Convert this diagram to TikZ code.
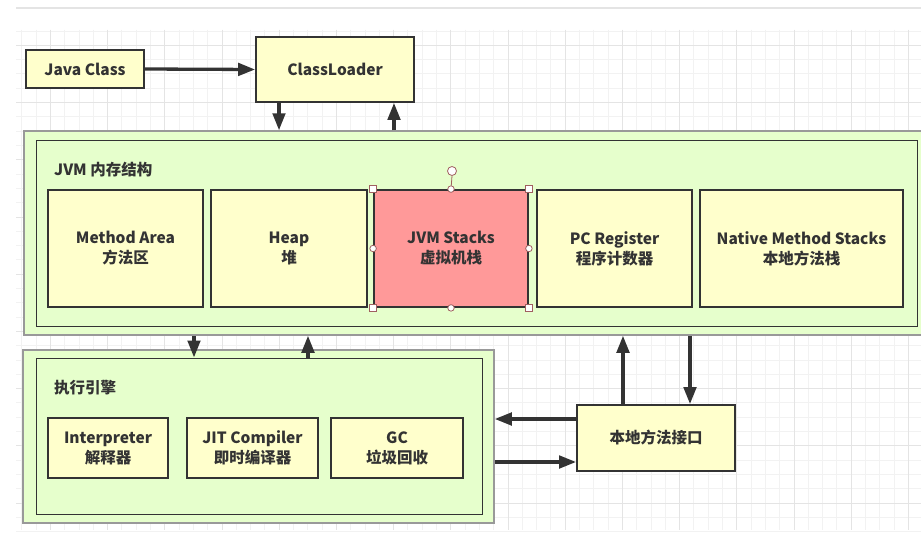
\documentclass[tikz,border=0pt]{standalone}
\usepackage{fontspec}
\setmainfont{Noto Sans CJK SC}
\usetikzlibrary{arrows.meta}
\definecolor{ybox}{HTML}{FFFFCC}
\definecolor{gbox}{HTML}{E6FFCC}
\definecolor{rbox}{HTML}{FF9999}
\definecolor{ink}{HTML}{333333}
\definecolor{handle}{HTML}{A06060}
\definecolor{gridminor}{HTML}{F2F2F2}
\definecolor{gridmajor}{HTML}{E4E4E4}
\tikzset{
  box/.style={draw=ink, line width=1.8pt, fill=ybox, text=ink, align=center,
    font=\fontsize{15.5}{20}\selectfont\bfseries, inner sep=0pt},
  redbox/.style={box, fill=rbox},
  outerframe/.style={draw=black!40, line width=1.5pt, fill=gbox},
  innerframe/.style={draw=ink, line width=1pt},
  arr/.style={draw=ink, line width=3.3pt, -{Triangle[length=17pt,width=12.5pt]}},
  title/.style={text=ink, anchor=west, font=\fontsize{15.5}{20}\selectfont\bfseries, inner sep=0pt},
  sqhandle/.style={draw=handle, fill=white, line width=0.8pt, minimum size=6.5pt, inner sep=0pt},
  cirhandle/.style={circle, draw=handle, fill=white, line width=0.8pt, minimum size=6.5pt, inner sep=0pt},
}
\begin{document}
\begin{tikzpicture}[x=1pt,y=-1pt]
\useasboundingbox (0,0) rectangle (921,543);
% background grid
\fill[white] (0,0) rectangle (921,543);
\foreach \i in {-2,...,61} {
  \pgfmathsetmacro\gx{50.3+\i*14.3}
  \ifdim\gx pt>16pt \draw[gridminor, line width=0.8pt] (\gx,30) -- (\gx,529.5); \fi
}
\foreach \i in {-1,...,34} {
  \pgfmathsetmacro\gy{45.3+\i*14.3}
  \draw[gridminor, line width=0.8pt] (16,\gy) -- (921,\gy);
}
\foreach \i in {0,...,15} {
  \pgfmathsetmacro\gx{50.3+\i*57.2}
  \draw[gridmajor, line width=0.8pt] (\gx,30) -- (\gx,529.5);
}
\foreach \i in {0,...,8} {
  \pgfmathsetmacro\gy{45.3+\i*57.2}
  \draw[gridmajor, line width=0.8pt] (16,\gy) -- (921,\gy);
}
\draw[gridmajor, line width=1.8pt] (16,8.3) -- (921,8.3);

% top
\node[box, minimum width=118pt, minimum height=38pt] (javaclass) at (85,69) {Java Class};
\node[box, minimum width=158pt, minimum height=65pt] (classloader) at (335,69.5) {ClassLoader};

% JVM memory frame
\node[outerframe, minimum width=906pt, minimum height=204pt, inner sep=0pt] (jvmouter) at (477,233) {};
\node[innerframe, minimum width=881pt, minimum height=186pt, inner sep=0pt] (jvminner) at (476.5,233) {};
\node[title] (jvmtitle) at (54,170) {JVM 内存结构};
\node[box, minimum width=155pt, minimum height=117pt] (method) at (125.5,248.5) {Method Area\\方法区};
\node[box, minimum width=156pt, minimum height=117pt] (heap) at (289,248.5) {Heap\\堆};
\node[redbox, minimum width=154pt, minimum height=117pt] (stacks) at (451,248.5) {JVM Stacks\\虚拟机栈};
\node[box, minimum width=155pt, minimum height=117pt] (pc) at (614.5,248.5) {PC Register\\程序计数器};
\node[box, minimum width=203pt, minimum height=117pt] (native) at (801.5,248.5) {Native Method Stacks\\本地方法栈};

% selection handles on JVM Stacks
\node[cirhandle, minimum size=9pt] (rot) at (452,171) {};
\draw[handle, line width=0.8pt] (rot.south) -- (stacks.north);
\node[sqhandle] (h1) at (stacks.north west) {};
\node[sqhandle] (h2) at (stacks.north east) {};
\node[sqhandle] (h3) at (stacks.south west) {};
\node[sqhandle] (h4) at (stacks.south east) {};
\node[cirhandle] (h5) at (stacks.north) {};
\node[cirhandle] (h6) at (stacks.south) {};
\node[cirhandle] (h7) at (stacks.west) {};
\node[cirhandle] (h8) at (stacks.east) {};

% execution engine frame
\node[outerframe, minimum width=471pt, minimum height=173pt, inner sep=0pt] (exouter) at (258.5,436.5) {};
\node[innerframe, minimum width=446pt, minimum height=156pt, inner sep=0pt] (exinner) at (259,436) {};
\node[title] (extitle) at (54,388) {执行引擎};
\node[box, minimum width=120pt, minimum height=60pt] (interp) at (108,448) {Interpreter\\解释器};
\node[box, minimum width=131pt, minimum height=60pt] (jit) at (252.5,448) {JIT Compiler\\即时编译器};
\node[box, minimum width=132pt, minimum height=60pt] (gc) at (397,448) {GC\\垃圾回收};

% native interface
\node[box, minimum width=158pt, minimum height=66pt] (jni) at (656,438) {本地方法接口};

% helper coordinates for vertical arrows
\coordinate (c279) at (279,0);
\coordinate (c394) at (394,0);
\coordinate (c194) at (194,0);
\coordinate (c308) at (308,0);
\coordinate (c623) at (623,0);
\coordinate (c690) at (690,0);
\coordinate (r419) at (0,419);
\coordinate (r462) at (0,462);

% connectors
\draw[arr] (javaclass.east) -- (classloader.west);
\draw[arr] (classloader.south -| c279) -- (jvmouter.north -| c279);
\draw[arr] (jvmouter.north -| c394) -- (classloader.south -| c394);
\draw[arr] (jvmouter.south -| c194) -- (exinner.north -| c194);
\draw[arr] (exinner.north -| c308) -- (jvmouter.south -| c308);
\draw[arr] (jni.north -| c623) -- (jvmouter.south -| c623);
\draw[arr] (jvmouter.south -| c690) -- (jni.north -| c690);
\draw[arr] (jni.west |- r419) -- (exouter.east |- r419);
\draw[arr] (exouter.east |- r462) -- (jni.west |- r462);
\end{tikzpicture}
\end{document}
